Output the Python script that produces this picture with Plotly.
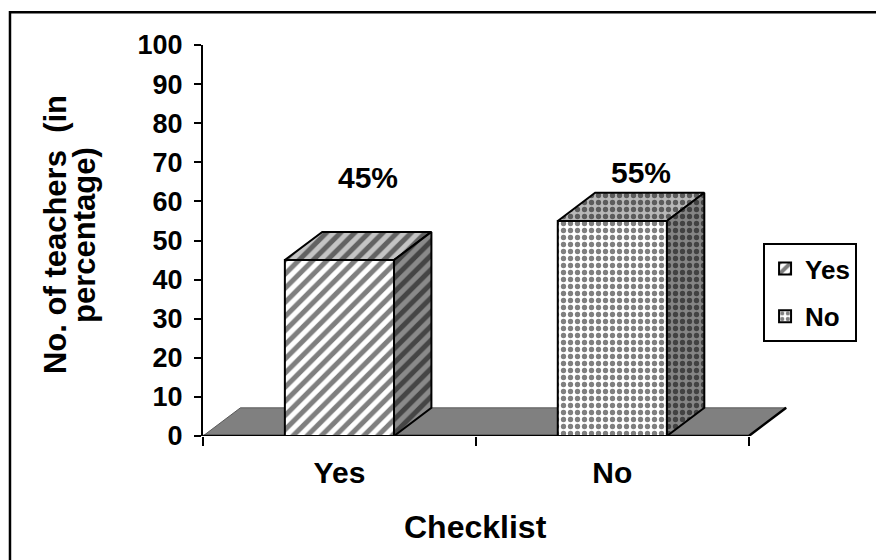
import plotly.graph_objects as go

# Survey result: share of teachers answering the checklist item
categories = ["Yes", "No"]
values = [45, 55]
tick_values = list(range(0, 101, 10))

# Layout helpers (category slots, bar geometry, 3-D depth in data units)
slot_pos = [0.5, 1.5]
BAR_W = 0.4
DEPTH_X = 0.137
DEPTH_Y = 7.2
label_y = [66.1, 67.5]
LABEL_DX = 0.104

FONT = "Liberation Sans, Arial, Helvetica, sans-serif"

patterns = [
    dict(shape="/", size=10, solidity=0.5),
    dict(shape=".", size=7, solidity=0.45),
]
top_bg = ["#c4c4c4", "#b8b8b8"]
side_bg = ["#8a8a8a", "#858585"]

fig = go.Figure()

# Front faces of the columns
for i, (cat, val) in enumerate(zip(categories, values)):
    fig.add_trace(go.Bar(
        x=[slot_pos[i]], y=[val], width=BAR_W, name=cat,
        legendgroup=cat,
        marker=dict(color="white",
                    line=dict(color="black", width=2),
                    pattern=dict(fgcolor="black", bgcolor="white",
                                 fillmode="overlay", **patterns[i])),
        hoverinfo="skip",
    ))

# Top and side faces giving the columns depth
for i, val in enumerate(values):
    xl = slot_pos[i] - BAR_W / 2
    xr = slot_pos[i] + BAR_W / 2
    top_x = [xl, xr, xr + DEPTH_X, xl + DEPTH_X, xl]
    top_y = [val, val, val + DEPTH_Y, val + DEPTH_Y, val]
    side_x = [xr, xr + DEPTH_X, xr + DEPTH_X, xr, xr]
    side_y = [0, DEPTH_Y, val + DEPTH_Y, val, 0]
    for fx, fy, bg in ((top_x, top_y, top_bg[i]), (side_x, side_y, side_bg[i])):
        fig.add_trace(go.Scatter(
            x=fx, y=fy, mode="lines", fill="toself",
            fillcolor=bg,
            fillpattern=dict(fgcolor="black", bgcolor=bg,
                             fillmode="overlay", **patterns[i]),
            line=dict(color="black", width=2),
            showlegend=False, hoverinfo="skip",
        ))

# Value labels
for i, val in enumerate(values):
    fig.add_annotation(
        x=slot_pos[i] + LABEL_DX, y=label_y[i], xref="x", yref="y",
        text=f"{val}%", showarrow=False,
        font=dict(family=FONT, size=30, color="black", weight="bold"),
    )

# Floor of the 3-D plot area
n = len(categories)
floor_path = (f"M 0,0 L {n},0 L {n + DEPTH_X},{DEPTH_Y} "
              f"L {DEPTH_X},{DEPTH_Y} Z")
fig.add_shape(type="path", path=floor_path, xref="x", yref="y",
              fillcolor="#808080", line=dict(color="#5a5a5a", width=1),
              layer="below")
fig.add_shape(type="path",
              path=f"M 0,0 L {n},0 L {n + DEPTH_X},{DEPTH_Y}",
              xref="x", yref="y", line=dict(color="black", width=2.5),
              layer="below")

# Outer chart frame
fig.add_shape(type="rect", xref="paper", yref="paper",
              x0=-0.3305, x1=1.4, y0=-0.5, y1=1.084,
              line=dict(color="black", width=2.5), fillcolor="rgba(0,0,0,0)")

# Axis titles
title_font = dict(family=FONT, size=31, color="black", weight="bold")
fig.add_annotation(x=-0.2534, y=0.514, xref="paper", yref="paper",
                   text="No. of teachers \u00a0(in", textangle=-90,
                   showarrow=False, font=title_font,
                   xanchor="center", yanchor="middle")
fig.add_annotation(x=-0.2038, y=0.514, xref="paper", yref="paper",
                   text="percentage)", textangle=-90,
                   showarrow=False, font=title_font,
                   xanchor="center", yanchor="middle")
fig.add_annotation(x=1.0, y=-0.232, xref="x", yref="paper",
                   text="Checklist", showarrow=False,
                   font=dict(family=FONT, size=32, color="black", weight="bold"),
                   xanchor="center", yanchor="middle")

fig.update_layout(
    width=876, height=560,
    margin=dict(l=203, r=89, t=45, b=124),
    paper_bgcolor="white", plot_bgcolor="white",
    barmode="overlay",
    showlegend=True,
    legend=dict(
        x=0.959, y=0.4936, xanchor="left", yanchor="top",
        bordercolor="black", borderwidth=2, bgcolor="white",
        font=dict(family=FONT, size=26, color="black", weight="bold"),
        tracegroupgap=11, traceorder="grouped",
    ),
    xaxis=dict(
        range=[0, 2.14], showgrid=False, zeroline=False, showline=False,
        tickmode="array", tickvals=slot_pos, ticktext=categories,
        ticks="", ticklabelstandoff=16,
        tickfont=dict(family=FONT, size=30, color="black", weight="bold"),
        minor=dict(tickmode="array", tickvals=[0, 1, 2], ticks="outside",
                   ticklen=9, tickwidth=2, tickcolor="black"),
    ),
    yaxis=dict(
        range=[0, 100], showgrid=False, zeroline=False,
        showline=True, linecolor="black", linewidth=2,
        tickmode="array", tickvals=tick_values,
        ticks="outside", ticklen=7, tickwidth=2, tickcolor="black",
        ticklabelstandoff=6,
        tickfont=dict(family=FONT, size=27, color="black", weight="bold"),
    ),
)

fig.write_html("out.html")
